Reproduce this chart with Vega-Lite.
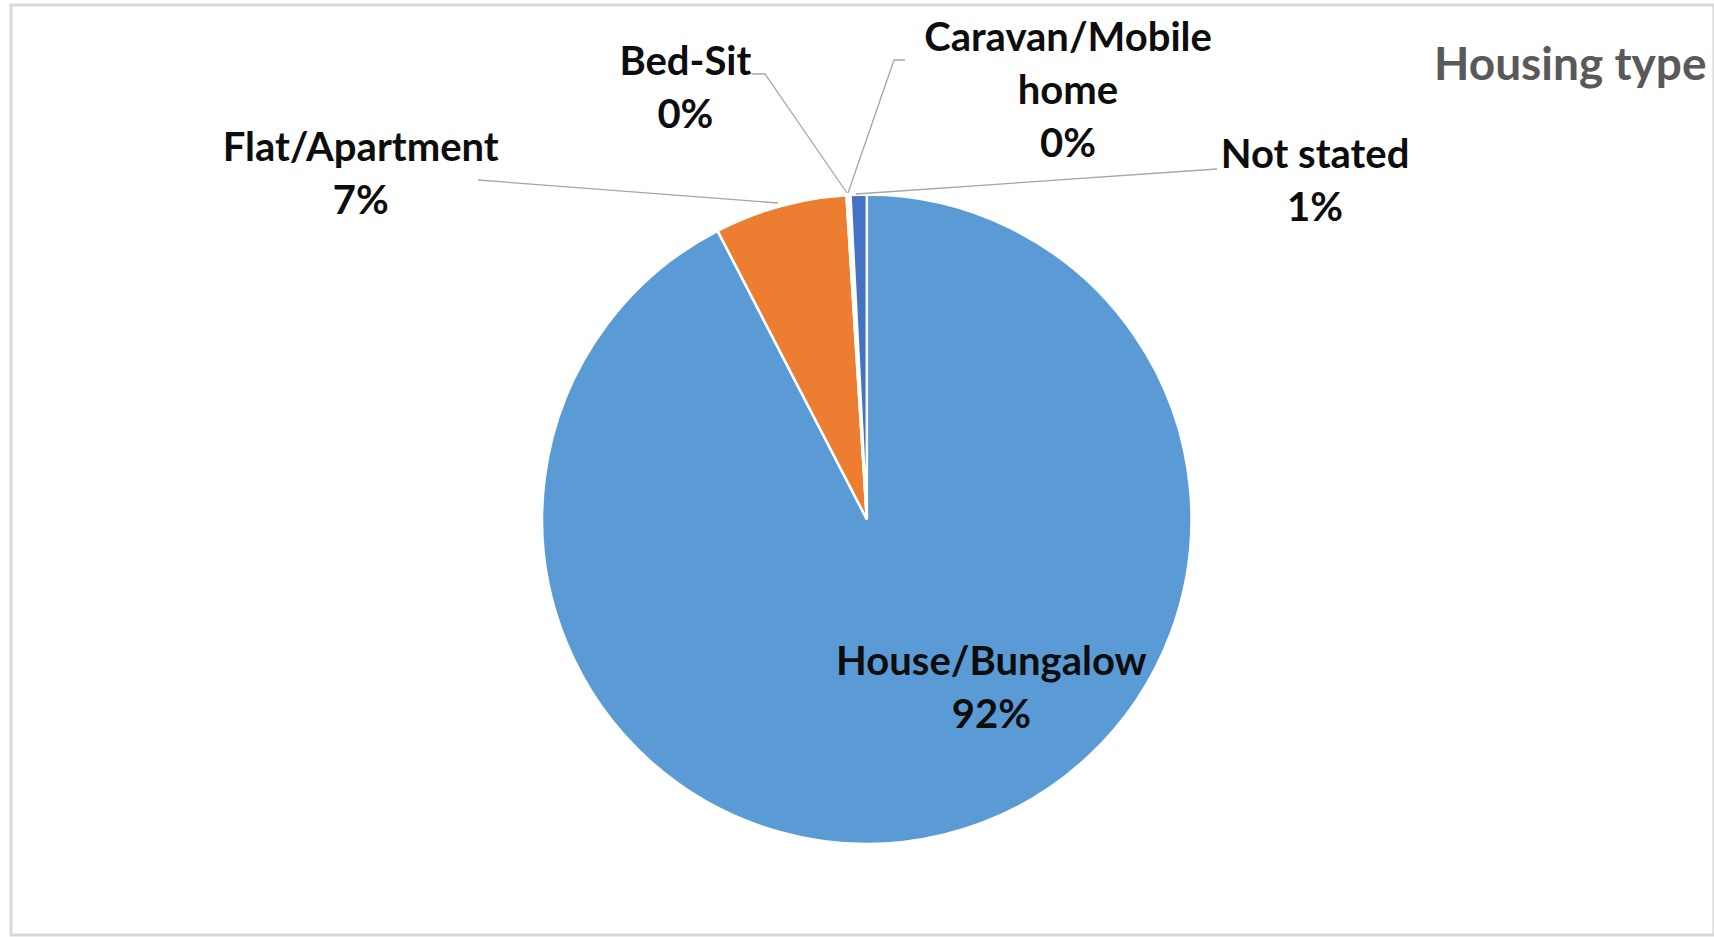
{
  "$schema": "https://vega.github.io/schema/vega-lite/v6.json",
  "width": 1714,
  "height": 937,
  "autosize": {"type": "fit", "contains": "padding"},
  "padding": {"left": 11, "top": 5, "right": 0, "bottom": 2},
  "background": "white",
  "config": {"view": {"stroke": "#d9d9d9", "strokeWidth": 3}},
  "datasets": {
    "slices": [
      {"type": "House/Bungalow", "share": 92.4, "order": 1},
      {"type": "Flat/Apartment", "share": 6.6, "order": 2},
      {"type": "Bed-Sit", "share": 0.1, "order": 3},
      {"type": "Caravan/Mobile home", "share": 0.1, "order": 4},
      {"type": "Not stated", "share": 0.8, "order": 5}
    ],
    "labels": [
      {"text": "Flat/Apartment\n7%", "lx": -1.5587, "ly": 1.1411},
      {"text": "Bed-Sit\n0%", "lx": -0.5587, "ly": 1.4037},
      {"text": "Caravan/Mobile\nhome\n0%", "lx": 0.6197, "ly": 1.4777},
      {"text": "Not stated\n1%", "lx": 1.3804, "ly": 1.1176},
      {"text": "House/Bungalow\n92%", "lx": 0.3837, "ly": -0.4444}
    ],
    "leaders": [
      {"seg": "flat", "pt": 1, "lx": -1.1974, "ly": 1.0447},
      {"seg": "flat", "pt": 2, "lx": -0.2735, "ly": 0.9738},
      {"seg": "bed", "pt": 1, "lx": -0.3536, "ly": 1.3711},
      {"seg": "bed", "pt": 2, "lx": -0.3135, "ly": 1.3711},
      {"seg": "bed", "pt": 3, "lx": -0.061, "ly": 1.0046},
      {"seg": "car", "pt": 1, "lx": 0.1176, "ly": 1.4142},
      {"seg": "car", "pt": 2, "lx": 0.0838, "ly": 1.4142},
      {"seg": "car", "pt": 3, "lx": -0.0579, "ly": 1.0046},
      {"seg": "ns", "pt": 1, "lx": 1.0785, "ly": 1.0785},
      {"seg": "ns", "pt": 2, "lx": -0.0333, "ly": 1.0015}
    ],
    "title": [
      {"text": "Housing type", "lx": 1.7469, "ly": 1.397}
    ]
  },
  "layer": [
    {
      "data": {"name": "slices"},
      "mark": {"type": "arc", "outerRadius": 324.7, "stroke": "white", "strokeWidth": 2.5},
      "encoding": {
        "x": {"datum": 0, "type": "quantitative", "scale": {"domain": [-2.6357, 2.6092], "nice": false, "zero": false}, "axis": null},
        "y": {"datum": 0, "type": "quantitative", "scale": {"domain": [-1.2806, 1.5836], "nice": false, "zero": false}, "axis": null},
        "theta": {"field": "share", "type": "quantitative", "stack": true},
        "order": {"field": "order", "type": "quantitative"},
        "color": {
          "field": "type",
          "type": "nominal",
          "scale": {
            "domain": ["House/Bungalow", "Flat/Apartment", "Bed-Sit", "Caravan/Mobile home", "Not stated"],
            "range": ["#5B9BD5", "#ED7D31", "#A5A5A5", "#FFC000", "#4472C4"]
          },
          "legend": null
        }
      }
    },
    {
      "data": {"name": "leaders"},
      "mark": {"type": "line", "stroke": "#a6a6a6", "strokeWidth": 1.3},
      "encoding": {
        "x": {"field": "lx", "type": "quantitative", "axis": null},
        "y": {"field": "ly", "type": "quantitative", "axis": null},
        "detail": {"field": "seg"},
        "order": {"field": "pt", "type": "quantitative"}
      }
    },
    {
      "data": {"name": "labels"},
      "mark": {"type": "text", "font": "Lato", "fontWeight": "bold", "fontSize": 40, "lineHeight": 53, "lineBreak": "\n", "align": "center", "baseline": "middle", "color": "#0d0d0d"},
      "encoding": {
        "x": {"field": "lx", "type": "quantitative", "axis": null},
        "y": {"field": "ly", "type": "quantitative", "axis": null},
        "text": {"field": "text"}
      }
    },
    {
      "data": {"name": "title"},
      "mark": {"type": "text", "font": "Lato", "fontWeight": "bold", "fontSize": 46, "align": "left", "baseline": "middle", "color": "#595959"},
      "encoding": {
        "x": {"field": "lx", "type": "quantitative", "axis": null},
        "y": {"field": "ly", "type": "quantitative", "axis": null},
        "text": {"field": "text"}
      }
    }
  ]
}
